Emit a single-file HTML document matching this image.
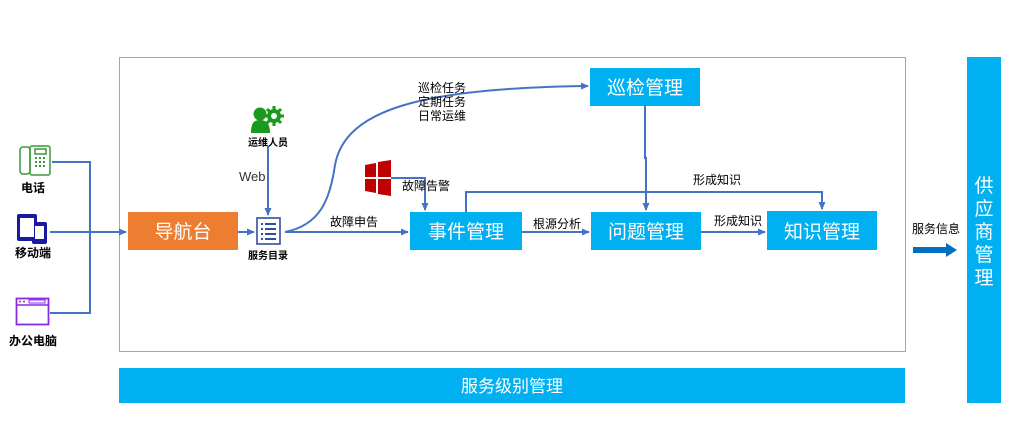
<!DOCTYPE html>
<html><head><meta charset="utf-8"><style>
html,body{margin:0;padding:0;background:#fff;}
svg{display:block;font-family:"Liberation Sans","Noto Sans CJK SC",sans-serif;}
</style></head><body>
<svg width="1013" height="428" viewBox="0 0 1013 428" xmlns="http://www.w3.org/2000/svg">
<defs>
<marker id="ar" markerWidth="8" markerHeight="8" refX="7" refY="4" orient="auto" markerUnits="userSpaceOnUse">
<path d="M0,0.5 L8,4 L0,7.5 z" fill="#4472c4"/></marker>
</defs>
<rect x="119.5" y="57.5" width="786" height="294" fill="none" stroke="#a6a6a6" stroke-width="1"/>
<rect x="119" y="368" width="786" height="35" fill="#00b0f0"/>
<text x="512" y="392" font-size="17" fill="#fff" text-anchor="middle">服务级别管理</text>
<rect x="967" y="57" width="34" height="346" fill="#00b0f0"/>
<g font-size="19" fill="#fff" text-anchor="middle">
<text x="984" y="192">供</text><text x="984" y="215">应</text><text x="984" y="238">商</text><text x="984" y="261">管</text><text x="984" y="284">理</text>
</g>
<rect x="128" y="212" width="110" height="38" fill="#ed7d31"/>
<text x="183" y="238" font-size="19" fill="#fff" text-anchor="middle">导航台</text>
<rect x="590" y="68" width="110" height="38" fill="#00b0f0"/>
<text x="645" y="94" font-size="19" fill="#fff" text-anchor="middle">巡检管理</text>
<rect x="410" y="212" width="112" height="38" fill="#00b0f0"/>
<text x="466" y="238" font-size="19" fill="#fff" text-anchor="middle">事件管理</text>
<rect x="591" y="212" width="110" height="38" fill="#00b0f0"/>
<text x="646" y="238" font-size="19" fill="#fff" text-anchor="middle">问题管理</text>
<rect x="767" y="211" width="110" height="39" fill="#00b0f0"/>
<text x="822" y="238" font-size="19" fill="#fff" text-anchor="middle">知识管理</text>

<g stroke="#4472c4" stroke-width="2" fill="none">
<path d="M52,162 H90 V313 H50"/>
<path d="M50,232 H126" marker-end="url(#ar)"/>
<path d="M238,232 H254" marker-end="url(#ar)"/>
<path d="M268,146 V215" marker-end="url(#ar)"/>
<path d="M285,232 C320,225 330,200 335,165 C345,110 420,88 588,86" marker-end="url(#ar)"/>
<path d="M285,232 H408" marker-end="url(#ar)"/>
<path d="M391,178 H425 V210" marker-end="url(#ar)"/>
<path d="M522,232 H589" marker-end="url(#ar)"/>
<path d="M645,106 V158 H646 V210" marker-end="url(#ar)"/>
<path d="M466,212 V192 H822 V209" marker-end="url(#ar)"/>
<path d="M701,232 H765" marker-end="url(#ar)"/>
</g>
<path d="M913,247 H946 V243 L957,250 L946,257 V253 H913 z" fill="#0070c0"/>

<g font-size="12" fill="#000">
<text x="418" y="92">巡检任务</text>
<text x="418" y="106">定期任务</text>
<text x="418" y="120">日常运维</text>
<text x="330" y="226">故障申告</text>
<text x="402" y="190">故障告警</text>
<text x="533" y="228">根源分析</text>
<text x="693" y="184">形成知识</text>
<text x="714" y="225">形成知识</text>
<text x="912" y="233">服务信息</text>
<text x="239" y="181" font-size="13" fill="#333">Web</text>
</g>
<g font-size="10" font-weight="bold" fill="#000" text-anchor="middle">
<text x="268" y="146">运维人员</text>
<text x="268" y="259">服务目录</text>
</g>
<g font-size="12" font-weight="bold" fill="#000" text-anchor="middle">
<text x="33" y="192">电话</text>
<text x="33" y="257">移动端</text>
<text x="33" y="345">办公电脑</text>
</g>

<g stroke="#3a9a3a" stroke-width="1.5" fill="none">
<rect x="20" y="147" width="10" height="27" rx="3"/>
<rect x="30" y="146" width="20" height="29" rx="2"/>
<rect x="35" y="149" width="11" height="5"/>
</g>
<g fill="#3a9a3a">
<rect x="35" y="157" width="2" height="2"/><rect x="39" y="157" width="2" height="2"/><rect x="43" y="157" width="2" height="2"/>
<rect x="35" y="161" width="2" height="2"/><rect x="39" y="161" width="2" height="2"/><rect x="43" y="161" width="2" height="2"/>
<rect x="35" y="165" width="2" height="2"/><rect x="39" y="165" width="2" height="2"/><rect x="43" y="165" width="2" height="2"/>
</g>
<g fill="#1a1aa0">
<rect x="17" y="214" width="20" height="27" rx="2"/>
<rect x="32" y="222" width="15" height="22" rx="2"/>
</g>
<rect x="20" y="218" width="14" height="19" fill="#fff"/>
<rect x="35" y="226" width="9" height="13" fill="#fff"/>
<rect x="16.5" y="298.5" width="32" height="26" fill="none" stroke="#8a2be2" stroke-width="1.8"/>
<line x1="17" y1="305" x2="48" y2="305" stroke="#8a2be2" stroke-width="1.5"/>
<rect x="29" y="300" width="16" height="3" fill="none" stroke="#8a2be2" stroke-width="1"/>
<circle cx="20" cy="301.5" r="1" fill="#8a2be2"/><circle cx="24" cy="301.5" r="1" fill="#8a2be2"/>

<!-- staff icon -->
<g fill="#1a9a1a">
<circle cx="260" cy="114" r="6.5"/>
<path d="M251,133 C251,123 254,120 260,120 C266,120 270,123 270,133 z"/>
<circle cx="274" cy="116" r="7"/>
<g stroke="#1a9a1a" stroke-width="3">
<line x1="274" y1="106" x2="274" y2="126"/><line x1="264" y1="116" x2="284" y2="116"/>
<line x1="267" y1="109" x2="281" y2="123"/><line x1="281" y1="109" x2="267" y2="123"/>
</g>
</g>
<circle cx="274" cy="116" r="3" fill="#fff"/>

<rect x="257" y="218" width="23" height="26" fill="#fff" stroke="#2f4f9f" stroke-width="1.6"/>
<g fill="#2f4f9f">
<rect x="261" y="223" width="2" height="2"/><rect x="265" y="223" width="11" height="2"/>
<rect x="261" y="228" width="2" height="2"/><rect x="265" y="228" width="11" height="2"/>
<rect x="261" y="233" width="2" height="2"/><rect x="265" y="233" width="11" height="2"/>
<rect x="261" y="238" width="2" height="2"/><rect x="265" y="238" width="11" height="2"/>
</g>

<g fill="#c00000">
<polygon points="365,165 376,163 376,177 365,177"/>
<polygon points="378,162 391,160 391,177 378,177"/>
<polygon points="365,179 376,179 376,193 365,191"/>
<polygon points="378,179 391,179 391,196 378,194"/>
</g>
</svg>
</body></html>
